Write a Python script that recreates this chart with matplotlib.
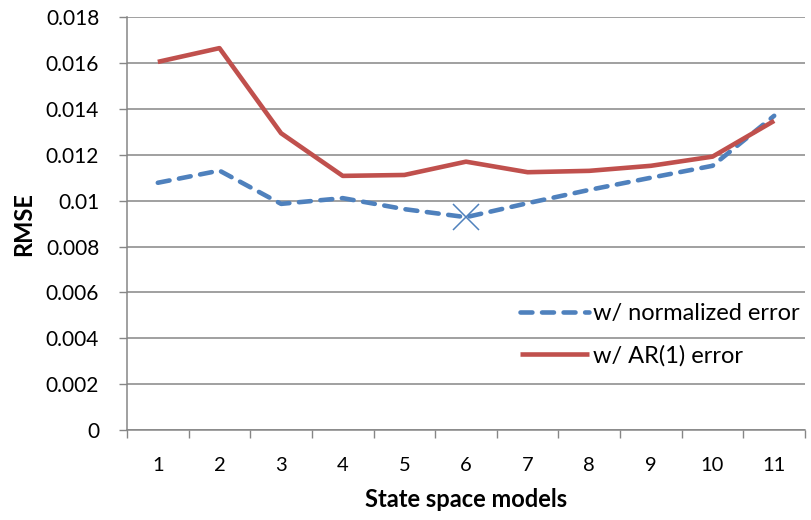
import matplotlib
matplotlib.use("Agg")
import matplotlib.pyplot as plt
import numpy as np

models = [1, 2, 3, 4, 5, 6, 7, 8, 9, 10, 11]
rmse_normalized = [0.01078, 0.01131, 0.00986, 0.01011, 0.00963, 0.00928, 0.00989, 0.01047, 0.01100, 0.01152, 0.01370]
rmse_ar1 = [0.01605, 0.01665, 0.01294, 0.01108, 0.01112, 0.01170, 0.01124, 0.01130, 0.01152, 0.01192, 0.01348]
best_idx = 5  # model 6, marked with a cross
yticks = [0, 0.002, 0.004, 0.006, 0.008, 0.01, 0.012, 0.014, 0.016, 0.018]
ytick_labels = ["0", "0.002", "0.004", "0.006", "0.008", "0.01", "0.012", "0.014", "0.016", "0.018"]

plt.rcParams["font.family"] = ["Lato", "DejaVu Sans"]
gray = "#868686"
blue, red = "#4F81BD", "#C0504D"

fig = plt.figure(figsize=(8.11, 5.20), dpi=100)
ax = fig.add_axes([0.1566, 0.173, 0.836, 0.794])

ax.plot(models, rmse_normalized, color=blue, linewidth=3.3, dashes=(2.6, 2.1),
        dash_capstyle="round", label="w/ normalized error", zorder=3)
ax.plot(models, rmse_ar1, color=red, linewidth=3.3, solid_capstyle="butt",
        label="w/ AR(1) error", zorder=3)
ax.plot(models[best_idx], rmse_normalized[best_idx], marker="x", markersize=19,
        markeredgewidth=1.1, color=blue, linestyle="none", zorder=4)

ax.set_xlim(0.5, 11.5)
ax.set_ylim(0, 0.018)
ax.set_yticks(yticks)
ax.set_yticklabels(ytick_labels)
ax.set_xticks(models)
ax.set_xticks(np.arange(0.5, 12, 1), minor=True)
ax.tick_params(axis="x", which="major", length=0, pad=19.5, labelsize=14.5)
ax.tick_params(axis="x", which="minor", length=6, width=1, color=gray, direction="out")
ax.tick_params(axis="y", length=6, width=1, color=gray, pad=14, labelsize=15)

ax.grid(axis="y", color=gray, linewidth=1.1)
ax.set_axisbelow(True)
for s in ["top", "right"]:
    ax.spines[s].set_visible(False)
for s in ["left", "bottom"]:
    ax.spines[s].set_color(gray)
    ax.spines[s].set_linewidth(1.1)
    ax.spines[s].set_zorder(2.5)

ax.set_xlabel("State space models", fontsize=17, fontweight="bold", labelpad=10)
ax.set_ylabel("RMSE", fontsize=17, fontweight="bold", labelpad=8)

ax.legend(loc="center left", bbox_to_anchor=(0.58, 0.231), frameon=False,
          fontsize=17, handlelength=2.9, handletextpad=0.2, labelspacing=0.9,
          borderpad=0, borderaxespad=0)

plt.savefig("out.png", dpi=100)
